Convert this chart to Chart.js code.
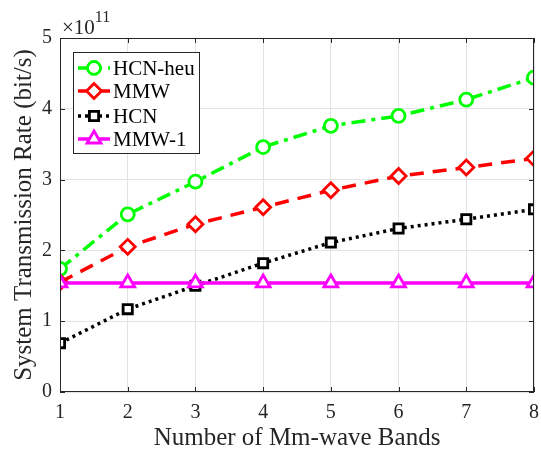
<!DOCTYPE html>
<html>
<head>
<meta charset="utf-8">
<script src="https://cdn.jsdelivr.net/npm/chart.js@4.4.1/dist/chart.umd.min.js"></script>
<style>
  html, body { margin: 0; padding: 0; background: #fff; overflow: hidden; }
  #wrap { width: 541px; height: 454px; }
</style>
</head>
<body>
<div id="wrap"><canvas id="c"></canvas></div>
<script>
const bands    = [1, 2, 3, 4, 5, 6, 7, 8];
const hcnHeu   = [1.74, 2.51, 2.97, 3.46, 3.76, 3.90, 4.13, 4.44];
const mmw      = [1.55, 2.05, 2.37, 2.61, 2.85, 3.05, 3.17, 3.30];
const hcn      = [0.69, 1.17, 1.50, 1.82, 2.11, 2.31, 2.44, 2.58];
const mmw1     = [1.54, 1.54, 1.54, 1.54, 1.54, 1.54, 1.54, 1.54];
const yTicks   = [0, 1, 2, 3, 4, 5];

const serif = '"Liberation Serif", "Times New Roman", serif';
const axisColor = '#262626';

function pts(arr) { return arr.map((v, i) => ({ x: bands[i], y: v })); }

const series = [
    { label: 'HCN-heu', data: pts(hcnHeu), borderColor: '#00ff00', borderDash: [14, 6, 4, 6], pointStyle: 'circle', pointRadius: 6.5, order: 3 },
    { label: 'MMW',     data: pts(mmw),    borderColor: '#ff0000', borderDash: [14, 9],        pointStyle: 'rectRot', pointRadius: 7.5, order: 2 },
    { label: 'HCN',     data: pts(hcn),    borderColor: '#000000', borderDash: [3, 4],         pointStyle: 'rect', pointRadius: 6.5, order: 1 },
    { label: 'MMW-1',   data: pts(mmw1),   borderColor: '#ff00ff', borderDash: [],             pointStyle: 'triangle', pointRadius: 8, order: 0 }
].map(s => Object.assign(s, {
    borderWidth: 3.5,
    pointBorderColor: s.borderColor,
    pointBackgroundColor: '#ffffff',
    pointBorderWidth: 2.8,
    fill: false,
    tension: 0
}));

const matlabFrame = {
    id: 'matlabFrame',
    afterDatasetsDraw(chart) {
        const { ctx, chartArea: a, scales: { x, y } } = chart;
        ctx.save();
        ctx.strokeStyle = axisColor;
        ctx.lineWidth = 1;
        ctx.strokeRect(a.left + 0.5, a.top + 0.5, a.right - a.left - 1, a.bottom - a.top - 1);
        ctx.beginPath();
        bands.forEach(v => {
            const px = Math.round(x.getPixelForValue(v)) + 0.5;
            ctx.moveTo(px, a.bottom); ctx.lineTo(px, a.bottom - 5);
            ctx.moveTo(px, a.top);    ctx.lineTo(px, a.top + 5);
        });
        yTicks.forEach(v => {
            const py = Math.round(y.getPixelForValue(v)) + 0.5;
            ctx.moveTo(a.left, py);  ctx.lineTo(a.left + 5, py);
            ctx.moveTo(a.right, py); ctx.lineTo(a.right - 5, py);
        });
        ctx.stroke();

        // exponent
        ctx.fillStyle = axisColor;
        ctx.textBaseline = 'alphabetic';
        ctx.textAlign = 'left';
        ctx.font = '21px ' + serif;
        ctx.fillText('\u00d710', a.left + 2, 34);
        const w = ctx.measureText('\u00d710').width;
        ctx.font = '16px ' + serif;
        ctx.fillText('11', a.left + 2 + w, 22);

        // legend
        const bx = 73, by = 52, bw = 126, bh = 101;
        ctx.fillStyle = '#ffffff';
        ctx.fillRect(bx, by, bw, bh);
        ctx.strokeStyle = axisColor;
        ctx.lineWidth = 1;
        ctx.strokeRect(bx + 0.5, by + 0.5, bw, bh);
        const rows = [68, 91, 116, 139];
        series.forEach((s, i) => {
            const ry = rows[i];
            ctx.save();
            ctx.strokeStyle = s.borderColor;
            ctx.lineWidth = s.borderWidth;
            ctx.setLineDash(s.borderDash);
            ctx.beginPath();
            ctx.moveTo(78, ry); ctx.lineTo(110, ry);
            ctx.stroke();
            ctx.restore();
            ctx.save();
            ctx.strokeStyle = s.borderColor;
            ctx.fillStyle = '#ffffff';
            ctx.lineWidth = s.pointBorderWidth;
            Chart.helpers.drawPoint(ctx, { pointStyle: s.pointStyle, radius: s.pointRadius, borderWidth: s.pointBorderWidth, rotation: 0 }, 94, ry);
            ctx.restore();
            ctx.fillStyle = '#000000';
            ctx.font = '21px ' + serif;
            ctx.textBaseline = 'middle';
            ctx.fillText(s.label, 113, ry + 1);
        });
        ctx.restore();
    }
};

new Chart(document.getElementById('c').getContext('2d'), {
    type: 'line',
    data: { datasets: series },
    options: {
        responsive: true,
        maintainAspectRatio: false,
        animation: false,
        layout: { autoPadding: false, padding: { top: 38, right: 7, left: 0, bottom: 0 } },
        plugins: { legend: { display: false }, tooltip: { enabled: false } },
        scales: {
            x: {
                type: 'linear', min: 1, max: 8,
                afterFit: s => { s.height = 62; s.paddingLeft = 0; s.paddingRight = 0; },
                afterBuildTicks: s => { s.ticks = bands.map(v => ({ value: v })); },
                grid: { color: '#e3e3e3', drawTicks: false },
                border: { display: false },
                ticks: { color: axisColor, font: { family: serif, size: 20 }, padding: 9, maxRotation: 0 },
                title: { display: true, text: 'Number of Mm-wave Bands', color: axisColor, font: { family: serif, size: 25 }, padding: { top: 0, bottom: 1 } }
            },
            y: {
                type: 'linear', min: 0, max: 5,
                afterFit: s => { s.width = 60; s.paddingTop = 0; s.paddingBottom = 0; },
                afterBuildTicks: s => { s.ticks = yTicks.map(v => ({ value: v })); },
                grid: { color: '#e3e3e3', drawTicks: false },
                border: { display: false },
                ticks: { color: axisColor, font: { family: serif, size: 20 }, padding: 8 },
                title: { display: true, text: 'System Transmission Rate (bit/s)', color: axisColor, font: { family: serif, size: 25 }, padding: { top: 9, bottom: 0 } }
            }
        }
    },
    plugins: [matlabFrame]
});
</script>
</body>
</html>
